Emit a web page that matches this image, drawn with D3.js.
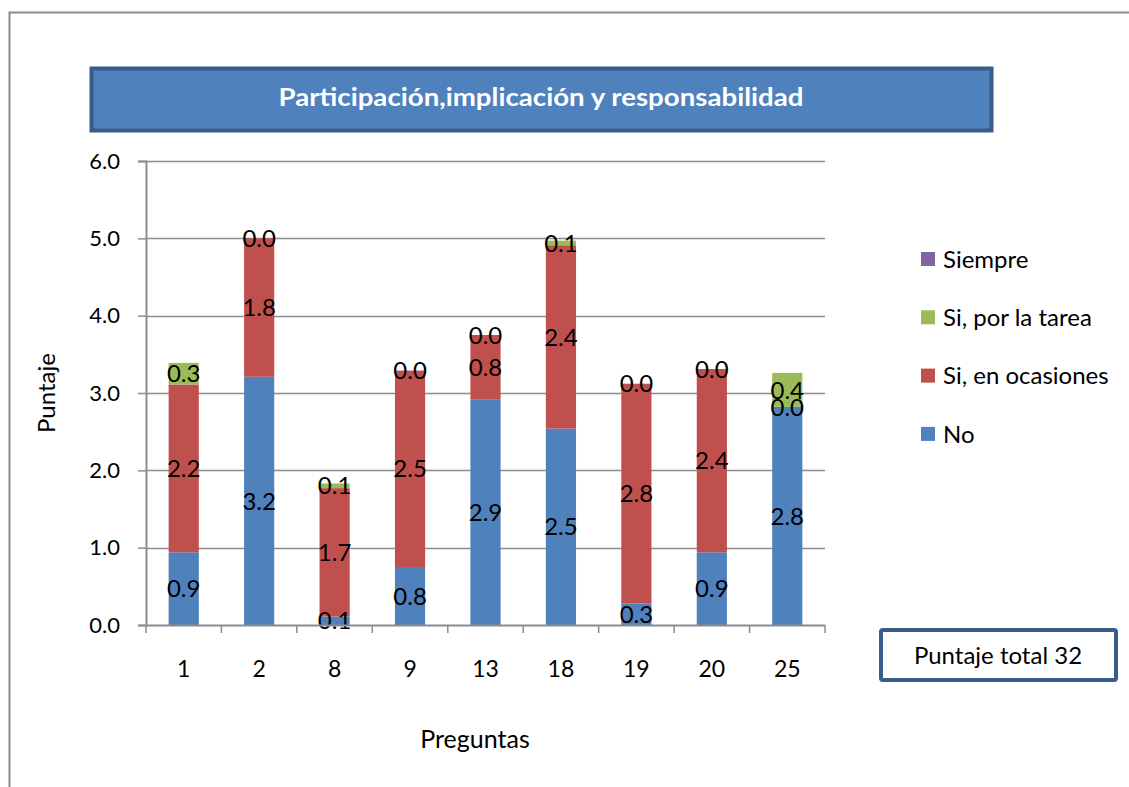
<!DOCTYPE html>
<html>
<head>
<meta charset="utf-8">
<script src="https://cdn.jsdelivr.net/npm/d3@7"></script>
<style>
  body { margin: 0; background: #fff; }
  svg text { font-family: Lato, "Open Sans", sans-serif; }
</style>
</head>
<body>
<svg id="chart" width="1129" height="787"></svg>
<script>
// Questions on the x axis
const preguntas = ["1", "2", "8", "9", "13", "18", "19", "20", "25"];
// Stacked series (bottom to top)
const serieNo = [0.94, 3.21, 0.11, 0.75, 2.92, 2.54, 0.28, 0.94, 2.82];
const serieOcasiones = [2.17, 1.79, 1.66, 2.54, 0.83, 2.37, 2.84, 2.37, 0.00];
const serieTarea = [0.28, 0.00, 0.06, 0.00, 0.00, 0.06, 0.00, 0.00, 0.44];
const serieSiempre = [null, null, null, null, null, null, null, null, null];
const seriesNames = ["No", "Si, en ocasiones", "Si, por la tarea", "Siempre"];
const seriesColors = ["#4F81BD", "#C0504D", "#9BBB59", "#8064A2"];
const yTicks = [0, 1, 2, 3, 4, 5, 6];
const titulo = "Participación,implicación y responsabilidad";
const totalTexto = "Puntaje total 32";

const svg = d3.select("#chart");

// outer chart frame
svg.append("path")
  .attr("d", "M9.5,787 L9.5,12.5 L1129,12.5")
  .attr("fill", "none").attr("stroke", "#8c8c8c").attr("stroke-width", 2);

// title banner
svg.append("rect")
  .attr("x", 91.5).attr("y", 68.5).attr("width", 900).attr("height", 62)
  .attr("fill", "#4F81BD").attr("stroke", "#385D8A").attr("stroke-width", 4);
svg.append("text")
  .attr("x", 541).attr("y", 106).attr("text-anchor", "middle")
  .attr("fill", "#fff").attr("font-weight", "bold").attr("font-size", 25)
  .attr("textLength", 525).attr("lengthAdjust", "spacingAndGlyphs")
  .text(titulo);

const margin = { left: 146, right: 825, top: 161, bottom: 625 };
const x = d3.scaleBand().domain(preguntas).range([margin.left, margin.right]).paddingInner(0.6).paddingOuter(0.3);
const xTickBand = d3.scaleBand().domain(preguntas).range([margin.left, margin.right]);
const y = d3.scaleLinear().domain([0, 6]).range([margin.bottom, margin.top]);

// gridlines
svg.append("g").selectAll("line").data(yTicks.filter(d => d > 0)).join("line")
  .attr("x1", margin.left).attr("x2", margin.right)
  .attr("y1", d => Math.round(y(d)) + 0.5).attr("y2", d => Math.round(y(d)) + 0.5)
  .attr("stroke", "#8c8c8c").attr("stroke-width", 1.5);

// stacked bars
const rows = preguntas.map((p, i) => ({
  p, No: serieNo[i], "Si, en ocasiones": serieOcasiones[i],
  "Si, por la tarea": serieTarea[i], Siempre: serieSiempre[i] || 0
}));
const stack = d3.stack().keys(seriesNames)(rows);

const layers = svg.append("g").selectAll("g").data(stack).join("g")
  .attr("fill", (d, i) => seriesColors[i]);
layers.selectAll("rect").data(d => d).join("rect")
  .attr("x", d => x(d.data.p))
  .attr("width", x.bandwidth())
  .attr("y", d => y(d[1]))
  .attr("height", d => y(d[0]) - y(d[1]));

// data labels (Siempre has no values, so it carries none)
const labelSeries = [serieNo, serieOcasiones, serieTarea];
const labels = svg.append("g");
stack.slice(0, 3).forEach((layer, si) => {
  labels.selectAll(null).data(layer).join("text")
    .attr("x", d => x(d.data.p) + x.bandwidth() / 2)
    .attr("y", d => y((d[0] + d[1]) / 2))
    .attr("dy", "0.36em")
    .attr("text-anchor", "middle")
    .attr("font-size", 24).attr("fill", "#000")
    .text((d, i) => d3.format(".1f")(labelSeries[si][i]));
});

// y axis
const yAxis = svg.append("g").attr("transform", `translate(${margin.left},0)`)
  .call(d3.axisLeft(y).tickValues(yTicks).tickFormat(d3.format(".1f")).tickSize(8).tickPadding(18));
yAxis.select(".domain").attr("stroke", "#8c8c8c").attr("stroke-width", 2);
yAxis.selectAll(".tick line").attr("stroke", "#8c8c8c").attr("stroke-width", 1.5);
yAxis.selectAll(".tick text").attr("font-size", 22).attr("fill", "#000")
  .attr("font-family", "Lato, sans-serif");

// x axis with ticks at band boundaries
const xAxisG = svg.append("g").attr("transform", `translate(0,${margin.bottom})`);
xAxisG.append("line").attr("x1", margin.left).attr("x2", margin.right)
  .attr("y1", 0.5).attr("y2", 0.5).attr("stroke", "#8c8c8c").attr("stroke-width", 2);
const boundaries = preguntas.map(p => xTickBand(p)).concat([margin.right]);
xAxisG.selectAll("line.tk").data(boundaries).join("line").attr("class", "tk")
  .attr("x1", d => d).attr("x2", d => d).attr("y1", 0).attr("y2", 8)
  .attr("stroke", "#8c8c8c").attr("stroke-width", 1.5);
xAxisG.selectAll("text").data(preguntas).join("text")
  .attr("x", d => xTickBand(d) + xTickBand.bandwidth() / 2)
  .attr("y", 52).attr("text-anchor", "middle")
  .attr("font-size", 23).attr("fill", "#000").text(d => d);

// axis titles
svg.append("text").attr("x", 475).attr("y", 748).attr("text-anchor", "middle")
  .attr("font-size", 25).text("Preguntas");
svg.append("text").attr("transform", "translate(55,393) rotate(-90)")
  .attr("text-anchor", "middle").attr("font-size", 24).text("Puntaje");

// legend (top entry is the last series)
const legendItems = seriesNames.map((n, i) => ({ n, c: seriesColors[i] })).reverse();
const lg = svg.append("g").selectAll("g").data(legendItems).join("g")
  .attr("transform", (d, i) => `translate(921,${259 + i * 58.3})`);
lg.append("rect").attr("x", 0).attr("y", -7).attr("width", 14).attr("height", 14).attr("fill", d => d.c);
lg.append("text").attr("x", 22).attr("y", 0).attr("dy", "0.36em")
  .attr("font-size", 24).text(d => d.n);

// total score box
svg.append("rect").attr("x", 881).attr("y", 630).attr("width", 235).attr("height", 50)
  .attr("rx", 2).attr("fill", "#fff").attr("stroke", "#385D8A").attr("stroke-width", 4);
svg.append("text").attr("x", 998).attr("y", 655).attr("dy", "0.36em").attr("text-anchor", "middle")
  .attr("font-size", 24).text(totalTexto);
</script>
</body>
</html>
